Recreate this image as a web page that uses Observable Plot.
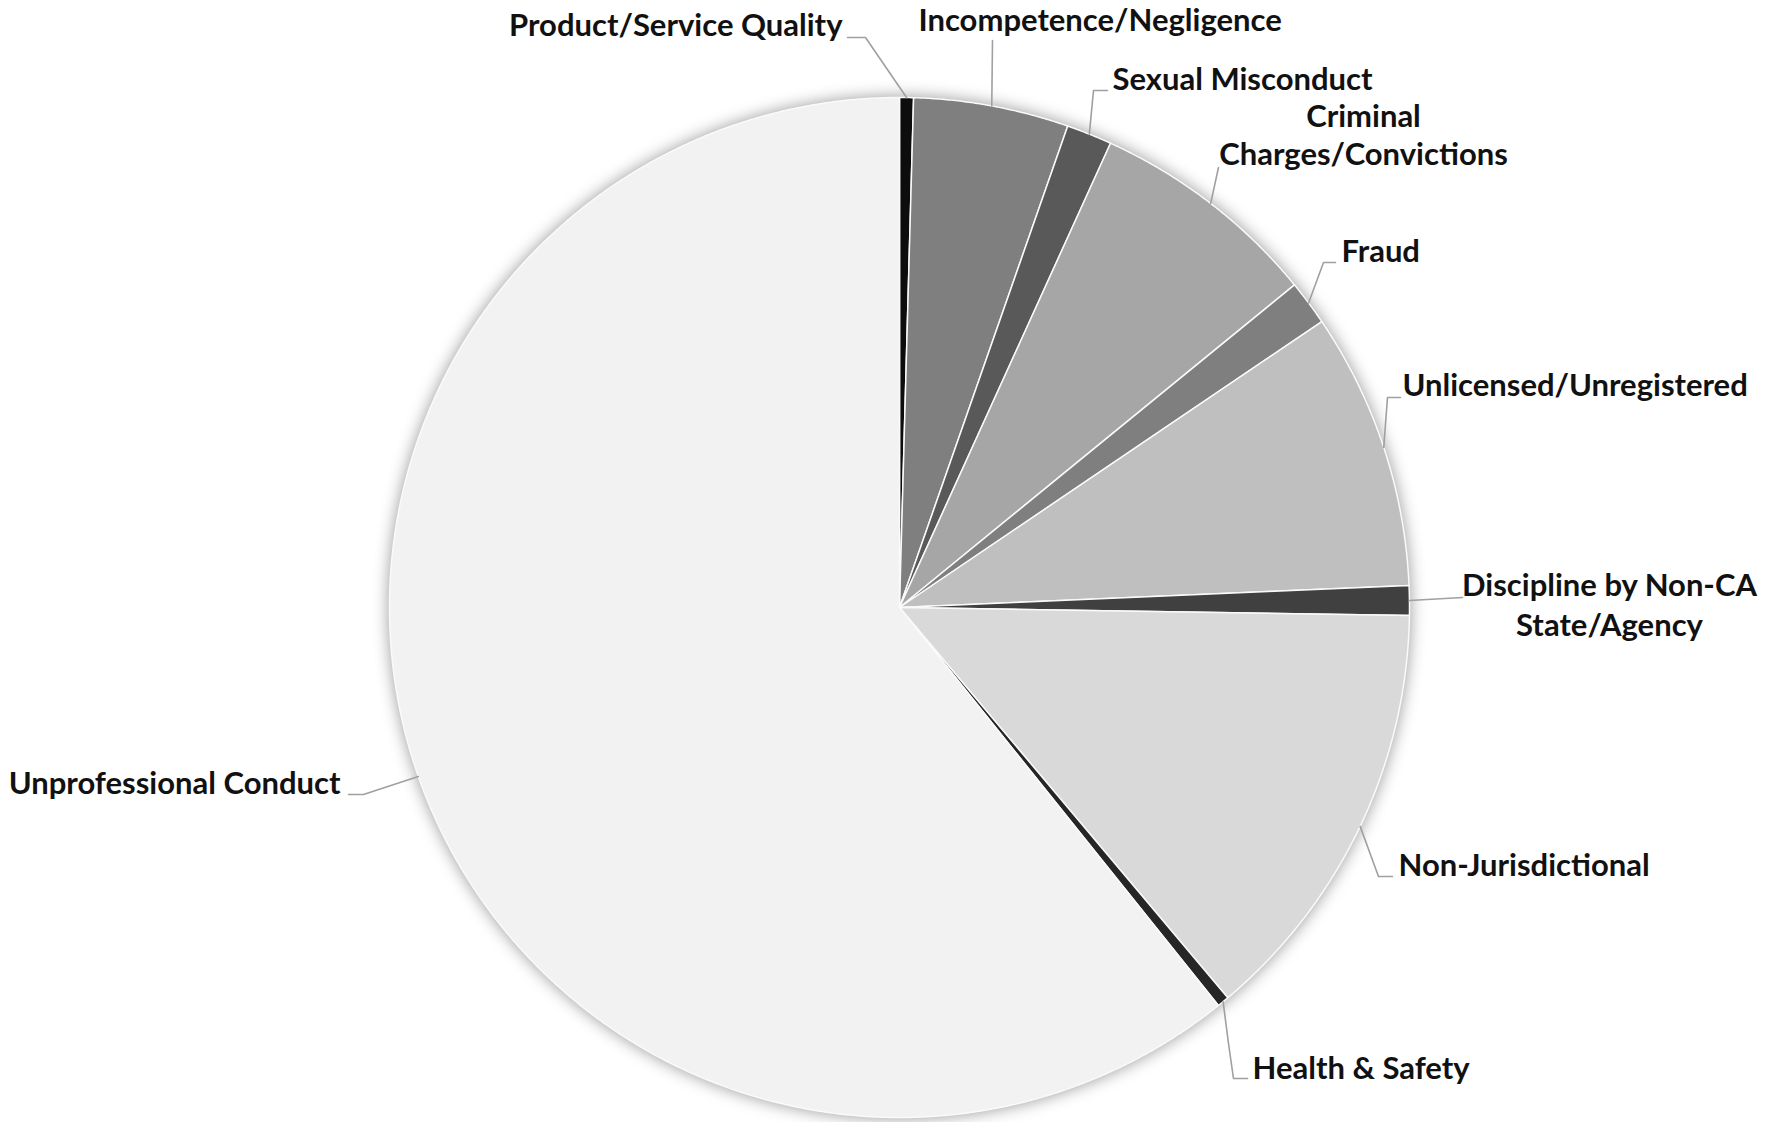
<!DOCTYPE html>
<html><head><meta charset="utf-8">
<script src="https://cdn.jsdelivr.net/npm/d3@7"></script>
<script src="https://cdn.jsdelivr.net/npm/@observablehq/plot@0.6"></script>
<style>
html,body{margin:0;padding:0;background:#fff;}
#chart{width:1773px;height:1122px;overflow:hidden;}
</style></head><body><div id="chart"></div>
<script>
// ---- data ----
const categories = ["Product/Service Quality","Incompetence/Negligence","Sexual Misconduct","Criminal Charges/Convictions","Fraud","Unlicensed/Unregistered","Discipline by Non-CA State/Agency","Non-Jurisdictional","Health & Safety","Unprofessional Conduct"];
const labelTexts = ["Product/Service Quality","Incompetence/Negligence","Sexual Misconduct","Criminal\nCharges/Convictions","Fraud","Unlicensed/Unregistered","Discipline by Non-CA\nState/Agency","Non-Jurisdictional","Health & Safety","Unprofessional Conduct"];
const shares = [0.44, 4.91, 1.44, 7.31, 1.43, 8.78, 0.94, 13.62, 0.38, 60.75];
const sliceColors = ["#0d0d0d","#7f7f7f","#595959","#a6a6a6","#7f7f7f","#bfbfbf","#404040","#d9d9d9","#262626","#f2f2f2"];

// ---- layout (pixels) ----
const W = 1773, H = 1122, CX = 899, CY = 607, R = 510;
const labelLayout = [
  {anchor:"end",    at:[842,35],   lh:1.26, path:[[865,37],[847,37]]},
  {anchor:"start",  at:[918,30],   lh:1.26, path:[[992,40]]},
  {anchor:"start",  at:[1112,89],  lh:1.26, path:[[1093,90],[1107,90]]},
  {anchor:"middle", at:[1363,164], lh:1.2,  path:[[1218,167]]},
  {anchor:"start",  at:[1341,261], lh:1.26, path:[[1323,262],[1335,262]]},
  {anchor:"start",  at:[1402,395], lh:1.26, path:[[1387,397],[1400,397]]},
  {anchor:"middle", at:[1609,635], lh:1.26, path:[[1462,597]]},
  {anchor:"start",  at:[1398,875], lh:1.26, path:[[1378,876],[1392,876]]},
  {anchor:"start",  at:[1252,1078],lh:1.26, path:[[1228,1043],[1233,1078],[1247,1078]]},
  {anchor:"end",    at:[340,793],  lh:1.26, path:[[363,794],[348,794]]}
];
const toU = ([px, py]) => ({x: (px - CX) / R, y: (CY - py) / R});

// ---- geometry from data ----
const total = d3.sum(shares);
let acc = 0;
const slices = categories.map((c, i) => {
  const a0 = acc / total * 2 * Math.PI;
  acc += shares[i];
  const a1 = acc / total * 2 * Math.PI;
  return {category: c, a0, a1, mid: (a0 + a1) / 2};
});
const piePoints = [];
for (const s of slices) {
  piePoints.push({category: s.category, x: 0, y: 0});
  const n = Math.max(2, Math.ceil((s.a1 - s.a0) / (Math.PI / 720)));
  for (let k = 0; k <= n; k++) {
    const a = s.a0 + (s.a1 - s.a0) * k / n;
    piePoints.push({category: s.category, x: Math.sin(a), y: Math.cos(a)});
  }
  piePoints.push({category: s.category, x: 0, y: 0});
}
const leaderPoints = [];
const labels = [];
slices.forEach((s, i) => {
  const L = labelLayout[i];
  leaderPoints.push({category: s.category, x: Math.sin(s.mid), y: Math.cos(s.mid)});
  for (const p of L.path) leaderPoints.push({category: s.category, ...toU(p)});
  labels.push({category: s.category, text: labelTexts[i], anchor: L.anchor, lh: L.lh, ...toU(L.at)});
});

const textMarks = labels.map(d => Plot.text([d], {
  x: "x", y: "y", text: "text", textAnchor: d.anchor, lineAnchor: "bottom",
  lineHeight: d.lh, fontSize: 31, fontWeight: "bold", fill: "#111"
}));

const svg = Plot.plot({
  width: W, height: H, margin: 0,
  x: {domain: [-CX / R, (W - CX) / R], axis: null},
  y: {domain: [-(H - CY) / R, CY / R], axis: null},
  color: {domain: categories, range: sliceColors},
  style: {background: "#fff", fontFamily: "Lato, 'Open Sans', sans-serif"},
  marks: [
    Plot.line(piePoints, {x: "x", y: "y", z: "category", fill: "category", stroke: "#fafafa", strokeWidth: 1.5, strokeLinejoin: "round", curve: "linear"}),
    Plot.line(leaderPoints, {x: "x", y: "y", z: "category", stroke: "#a0a0a0", strokeWidth: 1.6, curve: "linear"}),
    ...textMarks
  ]
});
const pieG = svg.querySelector('g[aria-label="line"]');
if (pieG) pieG.style.filter = "drop-shadow(0px 0px 8px rgba(0,0,0,0.4))";
document.getElementById("chart").appendChild(svg);
</script>
</body></html>
